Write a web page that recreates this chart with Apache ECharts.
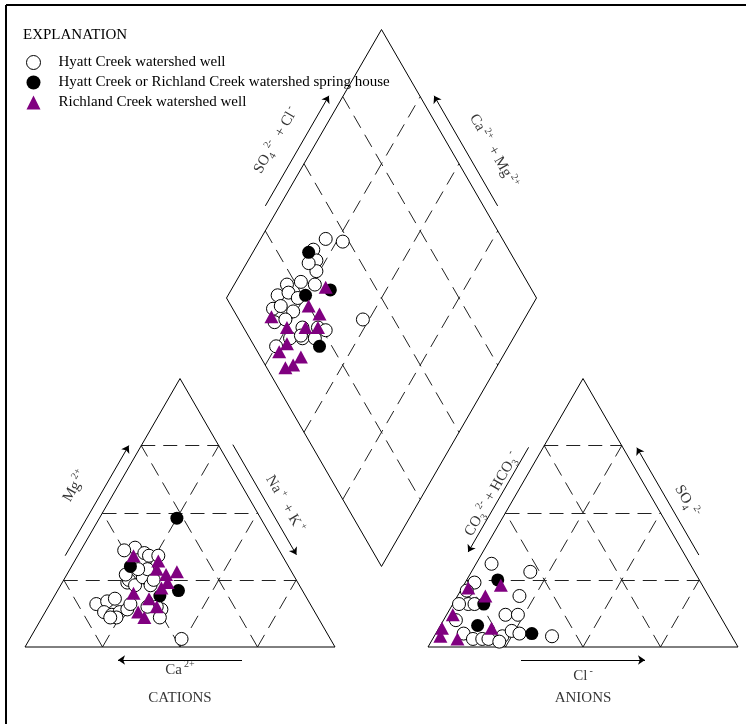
<!DOCTYPE html>
<html lang="en">
<head>
<meta charset="UTF-8" />
<title>Piper diagram</title>
<script src="https://cdn.jsdelivr.net/npm/echarts@6/dist/echarts.min.js"></script>
<style>
  html, body { margin: 0; padding: 0; background: #fff; }
  #chart { width: 746px; height: 724px; }
</style>
</head>
<body>
<div id="chart"></div>
<script>
// cation triangle, percent [Ca, Mg, Na+K]
var cationHyatt = [
  [46, 37, 17], [44, 35, 21], [43, 34, 23], [69, 16, 15], [65, 17, 18], [62, 18, 20],
  [68, 13, 19], [66, 12, 22], [63, 13, 24], [60, 14, 26], [58, 16, 26], [55, 24, 21],
  [54, 25, 21], [53, 23, 24], [49, 26, 25], [46, 29, 25], [54, 27, 19], [49, 29, 22],
  [48, 23, 29], [46, 25, 29], [49, 14, 37], [50, 15, 35], [53, 15, 32], [48, 3, 49],
  [50, 36, 14], [40, 34, 26], [51, 11, 38], [65, 11, 24], [67, 11, 22]
];
var cationSpring = [[27, 48, 25], [51, 30, 19], [40, 21, 39], [47, 19, 34]];
var cationRichland = [
  [48, 34, 18], [41, 32, 27], [43, 29, 28], [41, 27, 32], [37, 28, 35], [42, 24, 34],
  [45, 22, 33], [55, 20, 25], [51, 18, 31], [50, 15, 35], [57, 13, 30], [56, 11, 33]
];

// anion triangle, percent [CO3+HCO3, SO4, Cl]
var anionHyatt = [
  [64, 31, 5], [53, 28, 19], [73, 24, 3], [61, 19, 20], [79, 16, 5], [77, 16, 7],
  [82, 16, 2], [69, 12, 19], [65, 12, 23], [86, 5, 9], [84, 3, 13], [81, 3, 16],
  [79, 3, 18], [74, 4, 22], [70, 6, 24], [68, 5, 27], [58, 4, 38], [77, 21, 2],
  [86, 10, 4], [76, 2, 22]
];
var anionSpring = [[65, 25, 10], [74, 16, 10], [80, 8, 12], [64, 5, 31]];
var anionRichland = [
  [76, 22, 2], [65, 23, 12], [72, 19, 9], [86, 12, 2], [92, 7, 1], [76, 7, 17],
  [89, 3, 8], [94, 4, 2]
];

// diamond, percent [Na+K, SO4+Cl]
var diamondHyatt = [
  [21, 43], [27, 48], [19, 37], [22, 36], [24, 34], [17, 22], [21, 27], [26, 31],
  [16, 17], [19, 21], [23, 23], [17, 13], [19, 16], [24, 19], [20, 11], [23, 15],
  [30, 19], [35, 24], [38, 26], [25, 7], [28, 13], [32, 17], [36, 21], [48, 40],
  [20, 33], [31, 17]
];
var diamondSpring = [[18, 35], [25, 26], [32, 35], [39, 21]];
var diamondRichland = [
  [30, 34], [18, 11], [28, 25], [33, 27], [25, 14], [31, 20], [35, 24], [28, 11],
  [27, 7], [35, 13], [32, 6], [34, 9]
];

var gridSteps = [25, 50, 75];
var groupNames = [
  'Hyatt Creek watershed well',
  'Hyatt Creek or Richland Creek watershed spring house',
  'Richland Creek watershed well'
];

// ---- geometry (side of triangles = 100 units, gap = 30 units) ----
var H = Math.sqrt(3) / 2;
var SIDE = 100, GAP = 30;
var AX = SIDE + GAP;

function cationXY(p) { return [p[2] + p[1] / 2, p[1] * H]; }
function anionXY(p) { return [AX + p[2] + p[1] / 2, p[1] * H]; }
function diamondXY(p) {
  // p = [Na+K, SO4+Cl]
  var x0 = SIDE / 2 + GAP / 2, y0 = (SIDE + GAP) * H;
  return [x0 + (p[0] + p[1]) / 2, y0 + (p[1] - p[0]) * H];
}

var cL = cationXY([100, 0, 0]), cR = cationXY([0, 0, 100]), cT = cationXY([0, 100, 0]);
var aL = anionXY([100, 0, 0]), aR = anionXY([0, 0, 100]), aT = anionXY([0, 100, 0]);
var dL = diamondXY([0, 0]), dB = diamondXY([100, 0]), dR = diamondXY([100, 100]), dT = diamondXY([0, 100]);

function centroid(pts) {
  var x = 0, y = 0;
  pts.forEach(function (p) { x += p[0]; y += p[1]; });
  return [x / pts.length, y / pts.length];
}
var cC = centroid([cL, cR, cT]), aC = centroid([aL, aR, aT]), dC = centroid([dL, dB, dR, dT]);

// point along edge P->Q at fraction t, pushed outward from center by off units
function edgePoint(P, Q, t, off, center) {
  var dx = Q[0] - P[0], dy = Q[1] - P[1];
  var len = Math.sqrt(dx * dx + dy * dy);
  var nx = -dy / len, ny = dx / len;
  var mx = P[0] + dx * t, my = P[1] + dy * t;
  if ((mx - center[0]) * nx + (my - center[1]) * ny < 0) { nx = -nx; ny = -ny; }
  return [mx + nx * off, my + ny * off];
}

// outlines
var outlines = [
  [cL, cR, cT, cL],
  [aL, aR, aT, aL],
  [dL, dB, dR, dT, dL]
];

// dashed grid
var gridLines = [];
gridSteps.forEach(function (k) {
  var j = 100 - k;
  gridLines.push([cationXY([j, k, 0]), cationXY([0, k, j])]);
  gridLines.push([cationXY([j, 0, k]), cationXY([0, j, k])]);
  gridLines.push([cationXY([k, 0, j]), cationXY([k, j, 0])]);
  gridLines.push([anionXY([j, k, 0]), anionXY([0, k, j])]);
  gridLines.push([anionXY([j, 0, k]), anionXY([0, j, k])]);
  gridLines.push([anionXY([k, 0, j]), anionXY([k, j, 0])]);
  gridLines.push([diamondXY([0, k]), diamondXY([100, k])]);
  gridLines.push([diamondXY([k, 0]), diamondXY([k, 100])]);
});

// arrows: [P, Q, t0, t1, offset, center], arrowhead at t1
var arrowDefs = [
  [cL, cT, 0.32, 0.73, 3.5, cC],
  [cT, cR, 0.27, 0.68, 4.1, cC],
  [cR, cL, 0.30, 0.70, 4.2, cC],
  [aT, aL, 0.28, 0.67, 4.1, aC],
  [aL, aR, 0.30, 0.70, 4.2, aC],
  [aR, aT, 0.32, 0.72, 3.9, aC],
  [dL, dT, 0.32, 0.73, 4.0, dC],
  [dR, dT, 0.32, 0.73, 4.0, dC]
];
var arrows = arrowDefs.map(function (a) {
  return { coords: [edgePoint(a[0], a[1], a[2], a[4], a[5]), edgePoint(a[0], a[1], a[3], a[4], a[5])] };
});

// axis titles
var labels = [
  { pos: edgePoint(cL, cT, 0.53, 12.0, cC), rot: 60, text: '{t|Mg}{sup|2+}' },
  { pos: edgePoint(cT, cR, 0.52, 9.1, cC), rot: -60, text: '{t|Na}{sup|+}{t|  + K}{sup|+}' },
  { pos: edgePoint(cL, cR, 0.5, 7.3, cC), rot: 0, text: '{t|Ca}{sup|2+}' },
  { pos: edgePoint(cL, cR, 0.5, 16.6, cC), rot: 0, text: '{t|CATIONS}' },
  { pos: edgePoint(aL, aT, 0.53, 6.8, aC), rot: 60, text: '{t|CO}{sub|3}{sup|2-}{t| + HCO}{sub|3}{sup|-}' },
  { pos: edgePoint(aT, aR, 0.51, 9.2, aC), rot: -60, text: '{t|SO}{sub|4}{sup|2-}' },
  { pos: edgePoint(aL, aR, 0.5, 9.4, aC), rot: 0, text: '{t|Cl}{sup|-}' },
  { pos: edgePoint(aL, aR, 0.5, 16.6, aC), rot: 0, text: '{t|ANIONS}' },
  { pos: edgePoint(dL, dT, 0.52, 11.6, dC), rot: 60, text: '{t|SO}{sub|4}{sup|2-}{t|  + Cl}{sup|-}' },
  { pos: edgePoint(dR, dT, 0.48, 11.7, dC), rot: -60, text: '{t|Ca}{sup|2+}{t|  + Mg}{sup|2+}' }
];

var FONT = '"Liberation Serif", "DejaVu Serif", serif';
var rich = {
  t: { fontFamily: FONT, fontSize: 15, color: '#000', lineHeight: 20, verticalAlign: 'middle' },
  sup: { fontFamily: FONT, fontSize: 10, color: '#000', lineHeight: 20, verticalAlign: 'top', padding: [0, 0, 0, 2] },
  sub: { fontFamily: FONT, fontSize: 10, color: '#000', lineHeight: 20, verticalAlign: 'bottom' }
};

var styles = [
  { symbol: 'circle', symbolSize: 13, itemStyle: { color: '#fff', borderColor: '#000', borderWidth: 1, opacity: 1 } },
  { symbol: 'circle', symbolSize: 13, itemStyle: { color: '#000', opacity: 1 } },
  { symbol: 'triangle', symbolSize: [14, 13], itemStyle: { color: '#800080', opacity: 1 } }
];

function pointSeries(g, pts, z) {
  return {
    type: 'scatter',
    name: groupNames[g],
    symbol: styles[g].symbol,
    symbolSize: styles[g].symbolSize,
    itemStyle: styles[g].itemStyle,
    data: pts,
    clip: false,
    silent: true,
    z: z
  };
}

var chart = echarts.init(document.getElementById('chart'));
chart.setOption({
  animation: false,
  backgroundColor: '#fff',
  title: {
    text: 'EXPLANATION',
    left: 23, top: 28, padding: 0,
    textStyle: { fontFamily: FONT, fontSize: 15, fontWeight: 'normal', color: '#000' }
  },
  legend: {
    orient: 'vertical',
    left: 26, top: 55, padding: 0,
    itemWidth: 14, itemHeight: 14, itemGap: 5,
    selectedMode: false,
    textStyle: { fontFamily: FONT, fontSize: 15, color: '#000', padding: [0, 0, 0, 13] },
    data: groupNames.map(function (n, i) {
      return { name: n, icon: styles[i].symbol, itemStyle: styles[i].itemStyle };
    })
  },
  graphic: [
    { type: 'line', shape: { x1: 6, y1: 5, x2: 746, y2: 5 }, style: { stroke: '#000', lineWidth: 2 } },
    { type: 'line', shape: { x1: 6, y1: 5, x2: 6, y2: 724 }, style: { stroke: '#000', lineWidth: 2 } }
  ],
  grid: { left: 0, right: 0, top: 0, bottom: 0 },
  xAxis: { type: 'value', min: -25 / 3.1, max: (746 - 25) / 3.1, show: false },
  yAxis: { type: 'value', min: -(724 - 647) / 3.1, max: 647 / 3.1, show: false },
  series: [
    {
      type: 'lines', coordinateSystem: 'cartesian2d', polyline: true, silent: true, z: 2,
      lineStyle: { color: '#000', width: 1, opacity: 1 },
      data: outlines.map(function (c) { return { coords: c }; })
    },
    {
      type: 'lines', coordinateSystem: 'cartesian2d', silent: true, z: 1,
      lineStyle: { color: '#222', width: 1, opacity: 1, type: [14, 8] },
      data: gridLines.map(function (c) { return { coords: c }; })
    },
    {
      type: 'lines', coordinateSystem: 'cartesian2d', silent: true, z: 2,
      symbol: ['none', 'arrow'], symbolSize: 7,
      lineStyle: { color: '#000', width: 1, opacity: 1 },
      data: arrows
    },
    {
      type: 'scatter', silent: true, clip: false, z: 6,
      symbolSize: 0, itemStyle: { color: 'rgba(0,0,0,0)' },
      label: { show: true, position: 'inside', align: 'center', verticalAlign: 'middle', rich: rich },
      data: labels.map(function (l) {
        return { value: l.pos, label: { formatter: l.text, rotate: l.rot } };
      })
    },
    pointSeries(0, cationHyatt.map(cationXY), 3),
    pointSeries(0, anionHyatt.map(anionXY), 3),
    pointSeries(0, diamondHyatt.map(diamondXY), 3),
    pointSeries(1, cationSpring.map(cationXY), 4),
    pointSeries(1, anionSpring.map(anionXY), 4),
    pointSeries(1, diamondSpring.map(diamondXY), 4),
    pointSeries(2, cationRichland.map(cationXY), 5),
    pointSeries(2, anionRichland.map(anionXY), 5),
    pointSeries(2, diamondRichland.map(diamondXY), 5)
  ]
});
</script>
</body>
</html>
